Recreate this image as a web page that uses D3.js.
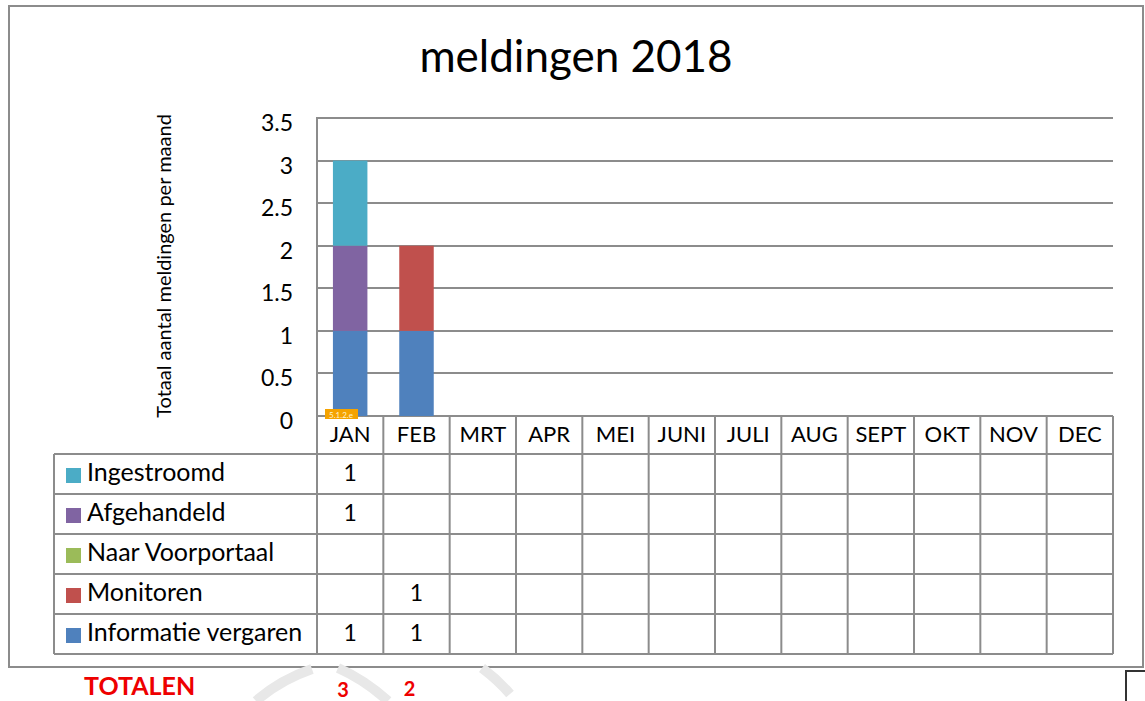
<!DOCTYPE html>
<html>
<head>
<meta charset="utf-8">
<script src="https://cdn.jsdelivr.net/npm/d3@7"></script>
<style>
  body { margin: 0; background: #fff; }
  svg { display: block; font-family: Lato, "Open Sans", sans-serif; }
</style>
</head>
<body>
<svg id="chart" width="1145" height="701"></svg>
<script>
// months on the x axis
var months = ["JAN", "FEB", "MRT", "APR", "MEI", "JUNI", "JULI", "AUG", "SEPT", "OKT", "NOV", "DEC"];

// series, bottom of the stack first
var seriesNames = ["Informatie vergaren", "Monitoren", "Naar Voorportaal", "Afgehandeld", "Ingestroomd"];
var seriesColors = ["#4f81bd", "#c0504d", "#9bbb59", "#8064a2", "#4bacc6"];

var informatieVergaren = [1, 1, 0, 0, 0, 0, 0, 0, 0, 0, 0, 0];
var monitoren          = [0, 1, 0, 0, 0, 0, 0, 0, 0, 0, 0, 0];
var naarVoorportaal    = [0, 0, 0, 0, 0, 0, 0, 0, 0, 0, 0, 0];
var afgehandeld        = [1, 0, 0, 0, 0, 0, 0, 0, 0, 0, 0, 0];
var ingestroomd        = [1, 0, 0, 0, 0, 0, 0, 0, 0, 0, 0, 0];

var yTicks = [0, 0.5, 1, 1.5, 2, 2.5, 3, 3.5];

var seriesValues = [informatieVergaren, monitoren, naarVoorportaal, afgehandeld, ingestroomd];

var svg = d3.select("#chart");
var grid = "#8c8c8c";

// rows for d3.stack
var rows = months.map(function(m, i) {
  var r = { month: m };
  seriesNames.forEach(function(s, j) { r[s] = seriesValues[j][i]; });
  return r;
});
var stacked = d3.stack().keys(seriesNames)(rows);

var x = d3.scaleBand().domain(months).range([317, 1113]).padding(0);
var y = d3.scaleLinear().domain([0, 3.5]).range([416, 118]);

// outer frame
svg.append("rect")
  .attr("x", 9).attr("y", 6).attr("width", 1134).attr("height", 661)
  .attr("fill", "#fff").attr("stroke", grid).attr("stroke-width", 2);

// faint watermark strokes below the frame
svg.append("path")
  .attr("d", "M256,701 Q280,680 312,669 M338,668 Q365,680 388,701 M482,668 Q498,680 510,694")
  .attr("fill", "none").attr("stroke", "#e8e8e8").attr("stroke-width", 10);

// title
svg.append("text")
  .attr("x", 576).attr("y", 72)
  .attr("text-anchor", "middle")
  .attr("font-size", 44)
  .text("meldingen 2018");

// horizontal gridlines
svg.append("g").selectAll("line")
  .data(yTicks)
  .enter().append("line")
  .attr("x1", 317).attr("x2", 1113)
  .attr("y1", function(d) { return Math.round(y(d)); })
  .attr("y2", function(d) { return Math.round(y(d)); })
  .attr("stroke", grid).attr("stroke-width", 2);

// left axis line
svg.append("line")
  .attr("x1", 317).attr("x2", 317).attr("y1", 117).attr("y2", 655)
  .attr("stroke", grid).attr("stroke-width", 2);

// y tick labels
svg.append("g").selectAll("text")
  .data(yTicks)
  .enter().append("text")
  .attr("x", 293)
  .attr("y", function(d) { return y(d) + 13; })
  .attr("text-anchor", "end")
  .attr("font-size", 23)
  .text(function(d) { return d; });

// y axis title
svg.append("text")
  .attr("transform", "translate(171,266) rotate(-90)")
  .attr("text-anchor", "middle")
  .attr("font-size", 20)
  .text("Totaal aantal meldingen per maand");

// stacked bars
var barW = x.bandwidth() * 0.52;
svg.append("g").selectAll("g")
  .data(stacked)
  .enter().append("g")
  .attr("fill", function(d, i) { return seriesColors[i]; })
  .selectAll("rect")
  .data(function(d) { return d; })
  .enter().append("rect")
  .attr("x", function(d) { return x(d.data.month) + (x.bandwidth() - barW) / 2; })
  .attr("y", function(d) { return y(d[1]); })
  .attr("width", barW)
  .attr("height", function(d) { return y(d[0]) - y(d[1]); });

// little redaction tag
svg.append("rect")
  .attr("x", 325).attr("y", 409).attr("width", 33).attr("height", 10)
  .attr("fill", "#f5a300");
svg.append("text")
  .attr("x", 341).attr("y", 417.5).attr("text-anchor", "middle")
  .attr("font-size", 8).attr("fill", "#fff4d0")
  .text("5.1.2.e");

// data table
var headTop = 416, headH = 38, rowH = 40;
var tableRows = seriesNames.slice().reverse();
var tableVals = seriesValues.slice().reverse();
var tableCols = seriesColors.slice().reverse();
var tableBottom = headTop + headH + rowH * tableRows.length;

// month header labels
svg.append("g").selectAll("text")
  .data(months)
  .enter().append("text")
  .attr("x", function(d) { return x(d) + x.bandwidth() / 2; })
  .attr("y", headTop + 26)
  .attr("text-anchor", "middle")
  .attr("font-size", 22)
  .text(function(d) { return d; });

// vertical lines of the month columns
svg.append("g").selectAll("line")
  .data(months.slice(1).concat(["end"]))
  .enter().append("line")
  .attr("x1", function(d) { return d === "end" ? 1113 : x(d); })
  .attr("x2", function(d) { return d === "end" ? 1113 : x(d); })
  .attr("y1", headTop).attr("y2", tableBottom)
  .attr("stroke", grid).attr("stroke-width", 2);

// horizontal lines of the rows
var rowLines = d3.range(tableRows.length + 1).map(function(i) { return headTop + headH + i * rowH; });
svg.append("g").selectAll("line")
  .data(rowLines)
  .enter().append("line")
  .attr("x1", 54).attr("x2", 1113)
  .attr("y1", function(d) { return d; }).attr("y2", function(d) { return d; })
  .attr("stroke", grid).attr("stroke-width", 2);

svg.append("line")
  .attr("x1", 54).attr("x2", 54).attr("y1", headTop + headH).attr("y2", tableBottom)
  .attr("stroke", grid).attr("stroke-width", 2);

// legend keys and labels
var rowG = svg.append("g").selectAll("g")
  .data(tableRows)
  .enter().append("g")
  .attr("transform", function(d, i) { return "translate(0," + (headTop + headH + i * rowH) + ")"; });

rowG.append("rect")
  .attr("x", 66).attr("y", 14).attr("width", 15).attr("height", 15)
  .attr("fill", function(d, i) { return tableCols[i]; });

rowG.append("text")
  .attr("x", 87).attr("y", 27)
  .attr("font-size", 25)
  .text(function(d) { return d; });

// table values
rowG.each(function(d, i) {
  d3.select(this).selectAll("text.val")
    .data(tableVals[i])
    .enter().append("text")
    .attr("class", "val")
    .attr("x", function(v, j) { return x(months[j]) + x.bandwidth() / 2; })
    .attr("y", 27)
    .attr("text-anchor", "middle")
    .attr("font-size", 23)
    .text(function(v) { return v ? v : ""; });
});

// totals under the chart
var totals = months.map(function(m, i) {
  return d3.sum(seriesValues, function(s) { return s[i]; });
});
svg.append("text")
  .attr("x", 84).attr("y", 695)
  .attr("font-size", 25).attr("font-weight", "bold")
  .attr("fill", "#ee0000")
  .text("TOTALEN");
svg.append("g").selectAll("text")
  .data(totals)
  .enter().append("text")
  .attr("x", function(d, i) { return x(months[i]) + x.bandwidth() / 2 - 7; })
  .attr("y", function(d, i) { return 697 - i * 1; })
  .attr("text-anchor", "middle")
  .attr("font-size", 20).attr("font-weight", "bold")
  .attr("fill", "#ee0000")
  .text(function(d) { return d ? d : ""; });

// corner of the next frame at the bottom right
svg.append("path")
  .attr("d", "M1126,701 V671 H1145")
  .attr("fill", "none").attr("stroke", "#333").attr("stroke-width", 2);
</script>
</body>
</html>
